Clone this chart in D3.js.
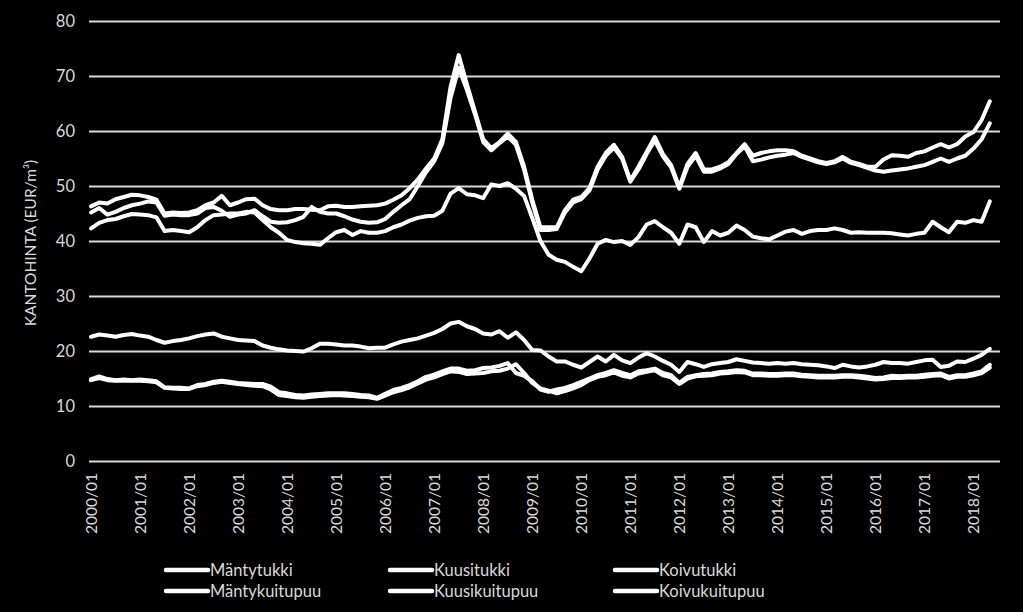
<!DOCTYPE html>
<html>
<head>
<meta charset="utf-8">
<script src="https://cdn.jsdelivr.net/npm/d3@7/dist/d3.min.js"></script>
<style>
  html, body { margin: 0; padding: 0; background: #000; }
  svg { display: block; }
  text { font-family: Lato, "Open Sans", sans-serif; fill: #d9d9d9; }
</style>
</head>
<body>
<svg id="chart" width="1023" height="612"></svg>
<script>
// ---- categories ----
const firstYear = 2000;
const monthCount = 223; // 2000/01 ... 2018/07 (category axis)
const tickLabels = ["2000/01","2001/01","2002/01","2003/01","2004/01","2005/01","2006/01",
  "2007/01","2008/01","2009/01","2010/01","2011/01","2012/01","2013/01","2014/01","2015/01",
  "2016/01","2017/01","2018/01"];
const yTicks = [0, 10, 20, 30, 40, 50, 60, 70, 80];
const seriesNames = ["Mäntytukki","Kuusitukki","Koivutukki","Mäntykuitupuu","Kuusikuitupuu","Koivukuitupuu"];
const yLabel = "KANTOHINTA (EUR/m³)";

// ---- series values (every second month, 2000/01 ... 2018/05), EUR/m3 ----
const kuusitukki = [
  46.3,47.0,46.8,47.6,48.0,48.4, 48.3,48.0,47.5,45.0,45.2,45.1, 45.2,45.6,46.5,47.0,48.2,46.5,
  47.0,47.6,47.7,46.5,45.8,45.6, 45.6,45.8,45.8,45.7,45.6,46.3, 46.4,46.2,46.2,46.3,46.4,46.5,
  46.8,47.5,48.3,49.6,51.2,53.2, 55.0,58.5,68.0,73.8,68.5,63.5, 58.5,56.9,58.0,59.5,58.0,53.5,
  47.5,42.5,42.5,42.5,45.6,47.5, 48.0,49.6,53.5,56.0,57.5,55.3, 51.0,53.5,56.2,58.9,55.8,53.8,
  49.8,54.0,56.0,53.0,53.0,53.5, 54.3,56.0,57.6,55.5,56.0,56.3, 56.5,56.5,56.3,55.5,55.0,54.5,
  54.2,54.5,55.3,54.4,54.0,53.5, 53.5,54.8,55.6,55.5,55.3,56.0, 56.3,57.0,57.6,57.0,57.6,59.0,
  59.8,62.0,65.4];
const mantytukki = [
  45.2,46.0,44.8,45.3,46.0,46.5, 46.8,47.2,47.0,44.6,44.8,44.7, 44.7,45.0,46.0,46.2,45.5,44.4,
  44.8,45.0,45.6,44.5,43.5,43.3, 43.4,43.8,44.4,46.2,45.3,45.0, 45.0,44.5,43.9,43.5,43.3,43.4,
  44.0,45.3,46.5,47.6,50.0,52.5, 54.5,57.8,66.0,71.5,67.5,63.0, 58.0,56.5,57.8,59.0,57.5,53.0,
  47.0,42.0,42.0,42.2,45.2,47.0, 47.6,49.2,53.0,55.5,57.0,55.0, 50.8,53.0,55.8,58.3,55.4,53.4,
  49.5,53.5,55.5,52.6,52.6,53.2, 54.0,55.8,57.2,54.5,54.8,55.2, 55.5,55.7,56.0,55.3,54.8,54.3,
  54.0,54.3,55.0,54.2,53.8,53.3, 52.8,52.6,52.8,53.0,53.2,53.5, 53.8,54.4,55.0,54.4,55.0,55.5,
  56.8,58.5,61.4];
const koivutukki = [
  42.3,43.3,43.8,44.0,44.5,44.9, 44.8,44.7,44.3,41.8,42.0,41.8, 41.6,42.5,43.8,44.7,44.8,45.0,
  45.0,45.3,45.2,43.8,42.5,41.5, 40.2,39.8,39.6,39.5,39.3,40.5, 41.6,42.0,41.1,41.8,41.5,41.5,
  41.8,42.5,43.0,43.7,44.2,44.5, 44.6,45.5,48.6,49.6,48.5,48.3, 47.8,50.3,50.0,50.5,49.5,48.2,
  44.2,40.0,37.5,36.6,36.2,35.3, 34.5,36.8,39.5,40.2,39.8,40.0, 39.3,40.7,43.0,43.6,42.5,41.5,
  39.5,43.0,42.5,39.8,41.8,41.0, 41.5,42.8,42.0,40.8,40.5,40.3, 41.0,41.7,42.0,41.3,41.8,42.0,
  42.0,42.3,42.0,41.5,41.6,41.5, 41.5,41.5,41.4,41.2,41.0,41.3, 41.5,43.5,42.5,41.6,43.5,43.3,
  43.8,43.5,47.2];
const kuusikuitupuu = [
  22.6,23.0,22.8,22.6,22.9,23.1, 22.8,22.6,22.0,21.5,21.8,22.0, 22.3,22.7,23.0,23.2,22.6,22.3,
  22.0,21.9,21.8,21.0,20.6,20.3, 20.1,20.0,19.9,20.5,21.3,21.3, 21.2,21.0,21.0,20.8,20.5,20.6,
  20.6,21.2,21.7,22.0,22.3,22.8, 23.3,24.0,25.0,25.3,24.5,24.0, 23.2,23.0,23.6,22.4,23.4,22.0,
  20.2,20.1,19.0,18.1,18.1,17.5, 17.0,18.0,19.0,18.1,19.3,18.3, 17.8,18.8,19.6,19.0,18.2,17.5,
  16.2,18.0,17.6,17.1,17.6,17.8, 18.0,18.5,18.2,17.9,17.8,17.7, 17.8,17.7,17.8,17.6,17.5,17.4,
  17.2,16.9,17.5,17.2,17.0,17.2, 17.5,18.0,17.8,17.8,17.7,18.0, 18.3,18.4,17.1,17.3,18.1,18.0,
  18.6,19.3,20.4];
const mantykuitupuu = [
  14.9,15.4,14.9,14.7,14.8,14.7, 14.8,14.7,14.5,13.4,13.3,13.3, 13.2,13.8,14.0,14.4,14.6,14.4,
  14.2,14.1,14.0,14.0,13.5,12.5, 12.3,12.0,11.9,12.1,12.2,12.3, 12.3,12.3,12.2,12.0,11.9,11.5,
  12.2,12.9,13.3,13.8,14.5,15.3, 15.7,16.3,16.8,16.8,16.4,16.5, 16.9,17.0,17.3,17.8,16.0,15.5,
  14.5,13.0,12.6,13.0,13.3,13.8, 14.4,15.0,15.6,16.0,16.5,16.0, 15.6,16.3,16.5,16.8,16.0,15.6,
  14.2,15.3,15.6,15.8,15.9,16.2, 16.3,16.5,16.4,15.9,15.9,15.8, 15.8,15.9,15.9,15.7,15.6,15.5,
  15.5,15.5,15.6,15.6,15.5,15.3, 15.1,15.2,15.5,15.4,15.5,15.5, 15.7,15.8,15.9,15.3,15.6,15.6,
  15.9,16.3,17.5];
const koivukuitupuu = [
  14.7,15.1,14.7,14.6,14.6,14.6, 14.6,14.5,14.3,13.3,13.2,13.1, 13.1,13.6,13.8,14.2,14.4,14.2,
  14.0,13.8,13.7,13.6,13.0,12.0, 11.8,11.6,11.5,11.7,11.8,11.9, 12.0,11.9,11.8,11.7,11.6,11.3,
  11.9,12.5,12.9,13.4,14.1,14.8, 15.2,15.8,16.3,16.2,15.8,15.9, 16.0,16.3,16.4,16.8,17.6,16.0,
  14.2,13.2,12.8,12.3,12.7,13.2, 13.8,14.7,15.3,15.6,16.1,15.5, 15.2,15.9,16.2,16.5,15.6,15.2,
  14.0,15.0,15.4,15.5,15.6,15.9, 16.0,16.2,16.1,15.6,15.6,15.5, 15.5,15.6,15.6,15.4,15.3,15.2,
  15.2,15.2,15.3,15.3,15.2,15.0, 14.8,14.9,15.1,15.1,15.2,15.2, 15.3,15.5,15.6,15.0,15.3,15.3,
  15.6,16.0,17.0];

// ---- build category list and series table ----
const months = [];
for (let i = 0; i < monthCount; i++) {
  const yy = firstYear + Math.floor(i / 12), m = (i % 12) + 1;
  months.push(yy + "/" + (m < 10 ? "0" + m : m));
}
const seriesValues = [mantytukki, kuusitukki, koivutukki, mantykuitupuu, kuusikuitupuu, koivukuitupuu];
const series = seriesNames.map((name, k) => ({
  name,
  points: seriesValues[k].map((v, j) => ({ month: months[j * 2], value: v }))
}));

// ---- layout ----
const svg = d3.select("#chart");
const plot = { left: 89, right: 1000, top: 21, bottom: 461 };

const x = d3.scaleBand().domain(months).range([plot.left, plot.right]).padding(0);
const xc = d => x(d) + x.bandwidth() / 2;
const y = d3.scaleLinear().domain([0, 80]).range([plot.bottom, plot.top]);

// gridlines + y axis
const yAxis = svg.append("g")
  .attr("transform", `translate(${plot.left},0)`)
  .call(d3.axisLeft(y).tickValues(yTicks).tickSize(-(plot.right - plot.left)).tickPadding(14).tickFormat(d3.format("d")));
yAxis.select(".domain").remove();
yAxis.selectAll(".tick line").attr("stroke", "#d9d9d9").attr("stroke-width", 2);
yAxis.selectAll(".tick text").attr("fill", "#d9d9d9").style("font-size", "16.5px");

// x axis labels
const xAxis = svg.append("g")
  .attr("transform", `translate(0,${plot.bottom})`)
  .call(d3.axisBottom(x).tickValues(tickLabels).tickSize(0));
xAxis.select(".domain").remove();
xAxis.selectAll(".tick text")
  .attr("transform", "rotate(-90)")
  .attr("x", -12).attr("y", 0).attr("dy", "0.36em")
  .attr("text-anchor", "end")
  .attr("fill", "#d9d9d9")
  .style("font-size", "15.5px");

// y label
svg.append("text")
  .attr("transform", "translate(36,243) rotate(-90)")
  .attr("text-anchor", "middle")
  .style("font-size", "15.5px")
  .text(yLabel);

// lines
const line = d3.line().x(d => xc(d.month)).y(d => y(d.value)).curve(d3.curveLinear);
svg.append("g").selectAll("path").data(series).join("path")
  .attr("d", d => line(d.points))
  .attr("fill", "none")
  .attr("stroke", "#ffffff")
  .attr("stroke-width", 4)
  .attr("stroke-linejoin", "round")
  .attr("stroke-linecap", "round");

// legend
const legendCols = [166, 390, 615];
const legendRows = [570, 591];
const lg = svg.append("g").selectAll("g").data(series).join("g")
  .attr("transform", (d, i) => `translate(${legendCols[i % 3]},${legendRows[Math.floor(i / 3)]})`);
lg.append("line").attr("x1", 0).attr("x2", 42).attr("y1", 0).attr("y2", 0)
  .attr("stroke", "#ffffff").attr("stroke-width", 4.5).attr("stroke-linecap", "round");
lg.append("text").attr("x", 44).attr("y", 0).attr("dy", "0.35em")
  .style("font-size", "16.5px").text(d => d.name);
</script>
</body>
</html>
